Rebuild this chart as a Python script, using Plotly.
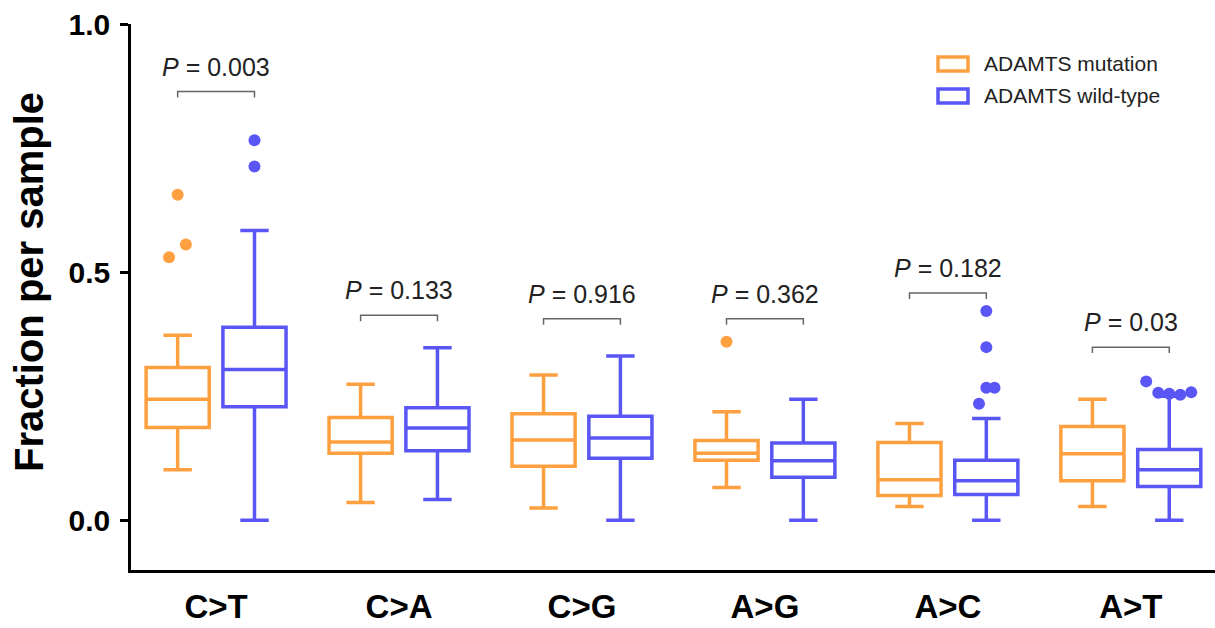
import plotly.graph_objects as go

# ---------------- data ----------------
categories = ["C>T", "C>A", "C>G", "A>G", "A>C", "A>T"]

mut_lower  = [0.102, 0.036, 0.025, 0.066, 0.028, 0.028]
mut_q1     = [0.187, 0.135, 0.109, 0.121, 0.050, 0.080]
mut_median = [0.244, 0.158, 0.162, 0.135, 0.082, 0.134]
mut_q3     = [0.308, 0.207, 0.215, 0.161, 0.157, 0.189]
mut_upper  = [0.373, 0.274, 0.293, 0.219, 0.195, 0.244]

wt_lower  = [0.000, 0.042, 0.000, 0.000, 0.000, 0.000]
wt_q1     = [0.229, 0.140, 0.125, 0.087, 0.052, 0.068]
wt_median = [0.304, 0.186, 0.166, 0.120, 0.080, 0.102]
wt_q3     = [0.389, 0.227, 0.210, 0.156, 0.121, 0.143]
wt_upper  = [0.584, 0.348, 0.331, 0.244, 0.205, 0.250]

# outliers: category index, value, small horizontal jitter
mut_out_cat = [0, 0, 0, 3]
mut_out_val = [0.656, 0.556, 0.530, 0.360]
mut_out_jit = [0.0, 0.045, -0.047, 0.0]

wt_out_cat = [0, 0, 4, 4, 4, 4, 4, 5, 5, 5, 5, 5]
wt_out_val = [0.766, 0.713, 0.422, 0.349, 0.267, 0.267, 0.235,
              0.280, 0.257, 0.255, 0.253, 0.258]
wt_out_jit = [0.0, 0.0, 0.0, 0.0, 0.0, 0.045, -0.04,
              -0.126, -0.06, 0.0, 0.06, 0.12]

p_values  = ["0.003", "0.133", "0.916", "0.362", "0.182", "0.03"]
bracket_y = [0.864, 0.413, 0.406, 0.406, 0.458, 0.349]

y_ticks = [0.0, 0.5, 1.0]
y_tick_labels = ["0.0", "0.5", "1.0"]

series_names = ["ADAMTS mutation", "ADAMTS wild-type"]

# ---------------- style ----------------
ORANGE = "#FFA040"
BLUE = "#5A56F6"
FONT = "Liberation Sans, Arial, sans-serif"
OFF = 0.21
BOXW = 0.345

L, R, T, B = 131, 0, 24, 58
W, H = 1215, 628
PW, PH = W - L - R, H - T - B

fig = go.Figure()

idx = list(range(len(categories)))

def add_box(name, color, sign, lo, q1, med, q3, up):
    fig.add_trace(go.Box(
        name=name,
        x=[i + sign * OFF for i in idx],
        lowerfence=lo, q1=q1, median=med, q3=q3, upperfence=up,
        width=BOXW, whiskerwidth=0.45,
        line=dict(color=color, width=3.5),
        fillcolor="rgba(255,255,255,0)",
        boxpoints=False, showlegend=False, hoverinfo="skip",
    ))

add_box(series_names[0], ORANGE, -1, mut_lower, mut_q1, mut_median, mut_q3, mut_upper)
add_box(series_names[1], BLUE, 1, wt_lower, wt_q1, wt_median, wt_q3, wt_upper)

fig.add_trace(go.Scatter(
    x=[c - OFF + j for c, j in zip(mut_out_cat, mut_out_jit)], y=mut_out_val,
    mode="markers", marker=dict(color=ORANGE, size=12), showlegend=False,
))
fig.add_trace(go.Scatter(
    x=[c + OFF + j for c, j in zip(wt_out_cat, wt_out_jit)], y=wt_out_val,
    mode="markers", marker=dict(color=BLUE, size=12), showlegend=False,
))

# brackets + p-values
for i, (p, by) in enumerate(zip(p_values, bracket_y)):
    fig.add_shape(type="path",
                  path=f"M {i-OFF},{by-0.012} L {i-OFF},{by} L {i+OFF},{by} L {i+OFF},{by-0.012}",
                  xref="x", yref="y", line=dict(color="#666666", width=1.5))
    fig.add_annotation(x=i, y=by, xref="x", yref="y", text=f"<i>P</i> = {p}",
                       showarrow=False, yanchor="middle", yshift=25,
                       font=dict(family=FONT, size=25, color="#222222"))

# custom legend
def px2paper(px, py):
    return (px - L) / PW, (H - B - py) / PH

for k, (name, color) in enumerate(zip(series_names, [ORANGE, BLUE])):
    cy = 64 + 32 * k
    x0, y0 = px2paper(938, cy - 7)
    x1, y1 = px2paper(968, cy + 7)
    fig.add_shape(type="rect", xref="paper", yref="paper", x0=x0, x1=x1, y0=y1, y1=y0,
                  line=dict(color=color, width=3.5), fillcolor="white")
    tx, ty = px2paper(982, cy)
    fig.add_annotation(x=tx, y=ty, xref="paper", yref="paper", text=name,
                       showarrow=False, xanchor="left", yanchor="middle",
                       font=dict(family=FONT, size=21, color="#222222"))

# y title
tx, ty = px2paper(29, 282)
fig.add_annotation(x=tx, y=ty, xref="paper", yref="paper", text="Fraction per sample",
                   textangle=-90, showarrow=False, xanchor="center", yanchor="middle",
                   font=dict(family=FONT, size=40, color="black", weight="bold"))

fig.update_layout(
    width=W, height=H,
    margin=dict(l=L, r=R, t=T, b=B, pad=0, autoexpand=False),
    plot_bgcolor="white", paper_bgcolor="white",
    showlegend=False,
    xaxis=dict(
        range=[-0.465, 5.46], tickvals=idx, ticktext=categories,
        showline=True, linecolor="black", linewidth=2.5, ticks="",
        showgrid=False, zeroline=False, ticklabelstandoff=6, automargin=False,
        tickfont=dict(family=FONT, size=33, color="black", weight="bold"),
    ),
    yaxis=dict(
        range=[-0.1, 1.0], tickvals=y_ticks, ticktext=y_tick_labels,
        showline=True, linecolor="black", linewidth=2.5, automargin=False,
        ticks="outside", ticklen=8, tickwidth=2.5, tickcolor="black",
        showgrid=False, zeroline=False, ticklabelstandoff=4,
        tickfont=dict(family=FONT, size=30, color="black", weight="bold"),
    ),
)

fig.write_html("out.html")
